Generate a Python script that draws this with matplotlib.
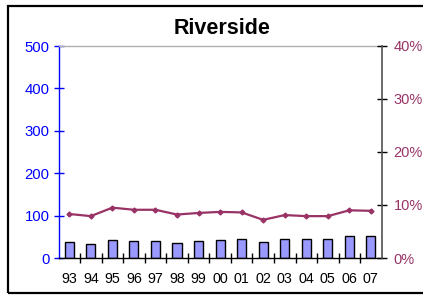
import numpy as np
import matplotlib.pyplot as plt
from matplotlib.patches import Rectangle

plt.rcParams.update({
    'font.family': ['Liberation Sans', 'DejaVu Sans'],
    'font.size': 10,
})

# Datos
years = ['93', '94', '95', '96', '97', '98', '99', '00', '01', '02', '03', '04', '05', '06', '07']
counts = [38, 32, 42, 40, 40, 36, 39, 42, 45, 38, 44, 44, 44, 51, 53]
rate_pct = [8.3, 7.9, 9.5, 9.1, 9.1, 8.2, 8.5, 8.7, 8.6, 7.2, 8.1, 7.9, 7.9, 9.0, 8.9]

W, H = 423, 295
fig = plt.figure(figsize=(W / 100, H / 100), dpi=100)
fig.patch.set_facecolor('white')

# Marco negro alrededor del gráfico (el lado derecho queda fuera de la imagen)
fig.patches.append(Rectangle((8 / W, 1 - 293 / H), 1.0, (293 - 6) / H,
                             transform=fig.transFigure, fill=False,
                             edgecolor='black', linewidth=1.6))

left, right, top, bottom = 58.5, 381.7, 46, 258
ax = fig.add_axes([left / W, 1 - bottom / H, (right - left) / W, (bottom - top) / H])
x = np.arange(len(years))

ax.bar(x, counts, width=0.42, color='#9999FF', edgecolor='black', linewidth=1.0, zorder=2)
ax.set_xlim(-0.5, len(years) - 0.5)
ax.set_ylim(0, 500)
ax.set_yticks([0, 100, 200, 300, 400, 500])
ax.tick_params(axis='y', colors='#0000FF', direction='inout', length=7, width=1, pad=3, labelsize=10.7)
ax.set_xticks(x)
ax.set_xticklabels(years)
ax.set_xticks(np.arange(-0.5, len(years) - 0.5 + 0.01, 1.0)[1:-1], minor=True)
ax.tick_params(axis='x', which='major', length=0, pad=10, labelsize=10.3)
ax.tick_params(axis='x', which='minor', direction='inout', length=7, width=1, color='black')

ax.spines['left'].set_color('#0000FF')
ax.spines['left'].set_linewidth(1.0)
ax.spines['bottom'].set_color('black')
ax.spines['bottom'].set_linewidth(1.0)
ax.spines['top'].set_color('#B0B0B0')
ax.spines['top'].set_linewidth(1.0)
ax.spines['right'].set_visible(False)

ax2 = ax.twinx()
ax2.plot(x, rate_pct, color='#993366', linewidth=1.6, marker='D', markersize=2.5, zorder=3)
ax2.set_ylim(0, 40)
ax2.set_yticks([0, 10, 20, 30, 40])
ax2.set_yticklabels(['0%', '10%', '20%', '30%', '40%'])
ax2.tick_params(axis='y', colors='black', labelcolor='#993366', direction='inout',
                length=7, width=1, pad=5, labelsize=10.5)
for s in ['left', 'top', 'bottom']:
    ax2.spines[s].set_visible(False)
ax2.spines['right'].set_color('#505050')
ax2.spines['right'].set_linewidth(1.2)

fig.text(0.5 * (left + right) / W + 0.005, 1 - 29 / H, 'Riverside', ha='center', va='center',
         fontsize=15.5, fontweight='bold')

fig.savefig('out.png', dpi=100)
